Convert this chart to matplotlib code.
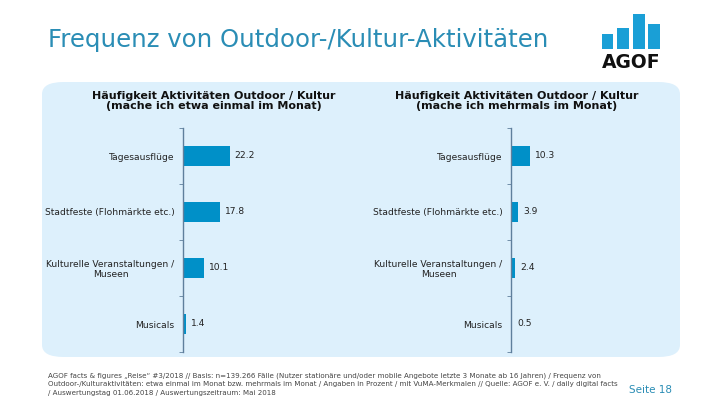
import numpy as np
import matplotlib.pyplot as plt
from matplotlib.patches import FancyBboxPatch

categories = ['Tagesausflüge', 'Stadtfeste (Flohmärkte etc.)',
              'Kulturelle Veranstaltungen /\nMuseen', 'Musicals']
einmal = [22.2, 17.8, 10.1, 1.4]
mehrmals = [10.3, 3.9, 2.4, 0.5]
panel_titles = ['Häufigkeit Aktivitäten Outdoor / Kultur\n(mache ich etwa einmal im Monat)',
                'Häufigkeit Aktivitäten Outdoor / Kultur\n(mache ich mehrmals im Monat)']
logo_heights = [15.3, 21, 35, 25.3]

bar_color = '#0090C8'
title_color = '#2A8DB5'
panel_color = '#DDF0FC'
spine_color = '#5F7F9C'

W, H = 720, 405
fig = plt.figure(figsize=(7.2, 4.05), dpi=100)

def fx(px):
    return px / W

def fy(py):
    return 1 - py / H

# light blue panel
panel = FancyBboxPatch((fx(42), fy(357)), fx(680 - 42), (357 - 82) / H,
                       boxstyle='round,pad=0,rounding_size=0.03',
                       transform=fig.transFigure, facecolor=panel_color,
                       edgecolor='none', zorder=0)
fig.add_artist(panel)

fig.text(fx(48), fy(40), 'Frequenz von Outdoor-/Kultur-Aktivitäten',
         color=title_color, fontsize=17.6, va='center', ha='left')

def draw_panel(x0, xmax, values, title, title_x):
    ax = fig.add_axes([fx(x0), fy(352), fx(150), 224 / H])
    ax.set_facecolor('none')
    y = np.arange(len(categories))
    ax.barh(y, values, height=0.37, color=bar_color)
    ax.set_ylim(3.5, -0.5)
    ax.set_xlim(0, xmax)
    for s in ['top', 'right', 'bottom']:
        ax.spines[s].set_visible(False)
    ax.spines['left'].set_color(spine_color)
    ax.spines['left'].set_linewidth(1)
    ax.set_xticks([])
    ax.set_yticks(y)
    ax.set_yticklabels(categories, fontsize=6.6, color='#222222',
                       multialignment='center')
    ax.tick_params(axis='y', which='major', length=0, pad=6)
    ax.set_yticks(np.arange(-0.5, 4, 1), minor=True)
    ax.tick_params(axis='y', which='minor', length=3, color=spine_color)
    for yi, v in zip(y, values):
        ax.text(v + xmax * 0.033, yi, f'{v:.1f}', va='center', ha='left',
                fontsize=6.6, color='#222222')
    fig.text(fx(title_x), fy(101), title, ha='center', va='center',
             fontsize=8.0, fontweight='bold', color='#111111', linespacing=1.05)

draw_panel(183, 71.3, einmal, panel_titles[0], 214)
draw_panel(511, 81.0, mehrmals, panel_titles[1], 517)

# logo
lax = fig.add_axes([fx(600), fy(72), fx(62), 67 / H])
lax.set_xlim(600, 662)
lax.set_ylim(72, 5)
lax.axis('off')
lax.bar([607.5, 623, 639, 654], np.negative(logo_heights), width=11.5,
        bottom=49.3, color='#1A9FD6')
lax.text(631, 62.5, 'AGOF', ha='center', va='center', fontsize=13.5,
         fontweight='bold', color='#111111')

foot = ('AGOF facts & figures „Reise“ #3/2018 // Basis: n=139.266 Fälle (Nutzer stationäre und/oder mobile Angebote letzte 3 Monate ab 16 Jahren) / Frequenz von\n'
        'Outdoor-/Kulturaktivitäten: etwa einmal im Monat bzw. mehrmals im Monat / Angaben in Prozent / mit VuMA-Merkmalen // Quelle: AGOF e. V. / daily digital facts\n'
        '/ Auswertungstag 01.06.2018 / Auswertungszeitraum: Mai 2018')
fig.text(fx(48), fy(384), foot, ha='left', va='center', fontsize=5.1,
         color='#444444', linespacing=1.5)
fig.text(fx(672), fy(390), 'Seite 18', ha='right', va='center', fontsize=7.5,
         color=title_color)

fig.savefig('out.png', dpi=100)
